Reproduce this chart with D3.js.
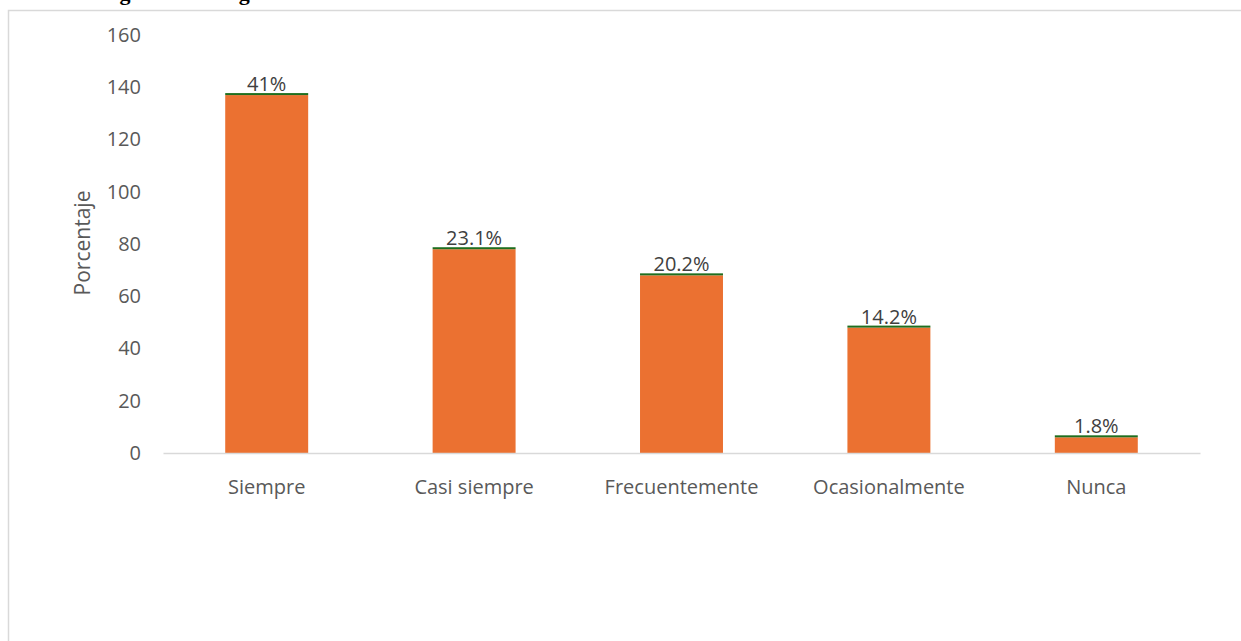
<!DOCTYPE html>
<html>
<head>
<meta charset="utf-8">
<script src="https://cdn.jsdelivr.net/npm/d3@7"></script>
<style>
  html, body { margin: 0; padding: 0; background: #fff; }
  svg { display: block; }
</style>
</head>
<body>
<svg id="chart" width="1241" height="641"></svg>
<script>
// Respuestas por categoría
const categories = ["Siempre", "Casi siempre", "Frecuentemente", "Ocasionalmente", "Nunca"];
const counts = [137, 78, 68, 48, 6];
const percents = [41, 23.1, 20.2, 14.2, 1.8];
const pctLabels = ["41%", "23.1%", "20.2%", "14.2%", "1.8%"];
const yTicks = [0, 20, 40, 60, 80, 100, 120, 140, 160];

const svg = d3.select("#chart");
const font = "'Open Sans', 'Noto Sans', sans-serif";

// caption line above the chart area (cut off by the page top)
svg.append("text")
  .attr("x", 100).attr("y", 0)
  .attr("font-family", "'Liberation Serif', serif")
  .attr("font-weight", "bold")
  .attr("font-size", 22)
  .attr("fill", "#000")
  .text("Figura 11. Imagen web");

// chart frame
svg.append("rect")
  .attr("x", 8.5).attr("y", 10.5)
  .attr("width", 1300).attr("height", 700)
  .attr("fill", "none")
  .attr("stroke", "#d9d9d9")
  .attr("stroke-width", 1.5);

const plotLeft = 163, plotRight = 1200, plotTop = 35, plotBottom = 453;

const x = d3.scaleBand()
  .domain(categories)
  .range([plotLeft, plotRight])
  .paddingInner(0.6)
  .paddingOuter(0.3);

const y = d3.scaleLinear()
  .domain([0, 160])
  .range([plotBottom, plotTop]);

// y tick labels
const yAxis = svg.append("g")
  .attr("transform", `translate(${plotLeft - 22},0)`)
  .call(d3.axisLeft(y).tickValues(yTicks).tickSize(0).tickPadding(0));
yAxis.select(".domain").remove();
yAxis.selectAll("text")
  .attr("font-family", font)
  .attr("font-size", 20)
  .attr("fill", "#595959");

// y axis title
svg.append("text")
  .attr("transform", `translate(90,243) rotate(-90)`)
  .attr("text-anchor", "middle")
  .attr("font-family", font)
  .attr("font-size", 21)
  .attr("fill", "#595959")
  .text("Porcentaje");

// orange bars (counts)
svg.append("g").selectAll("rect")
  .data(categories)
  .join("rect")
  .attr("x", d => x(d))
  .attr("width", x.bandwidth())
  .attr("y", (d, i) => y(counts[i]))
  .attr("height", (d, i) => y(0) - y(counts[i]))
  .attr("fill", "#EB7131");

// green segment (share) stacked on top of each bar
svg.append("g").selectAll("rect")
  .data(categories)
  .join("rect")
  .attr("x", d => x(d))
  .attr("width", x.bandwidth())
  .attr("y", (d, i) => Math.min(y(counts[i] + percents[i] / 100), y(counts[i]) - 2))
  .attr("height", (d, i) => Math.max(y(counts[i]) - y(counts[i] + percents[i] / 100), 2))
  .attr("fill", "#1e6e1e");

// x axis line
const xAxis = svg.append("g")
  .attr("transform", `translate(0,${plotBottom})`)
  .call(d3.axisBottom(x).tickSize(0).tickPadding(27));
xAxis.select(".domain")
  .attr("stroke", "#d9d9d9")
  .attr("stroke-width", 1.5);
xAxis.selectAll("text")
  .attr("font-family", font)
  .attr("font-size", 20)
  .attr("fill", "#595959");

// percentage labels
svg.append("g").selectAll("text")
  .data(categories)
  .join("text")
  .attr("x", d => x(d) + x.bandwidth() / 2)
  .attr("y", (d, i) => y(counts[i]) - 4)
  .attr("text-anchor", "middle")
  .attr("font-family", font)
  .attr("font-size", 20)
  .attr("fill", "#404040")
  .text((d, i) => pctLabels[i]);
</script>
</body>
</html>
